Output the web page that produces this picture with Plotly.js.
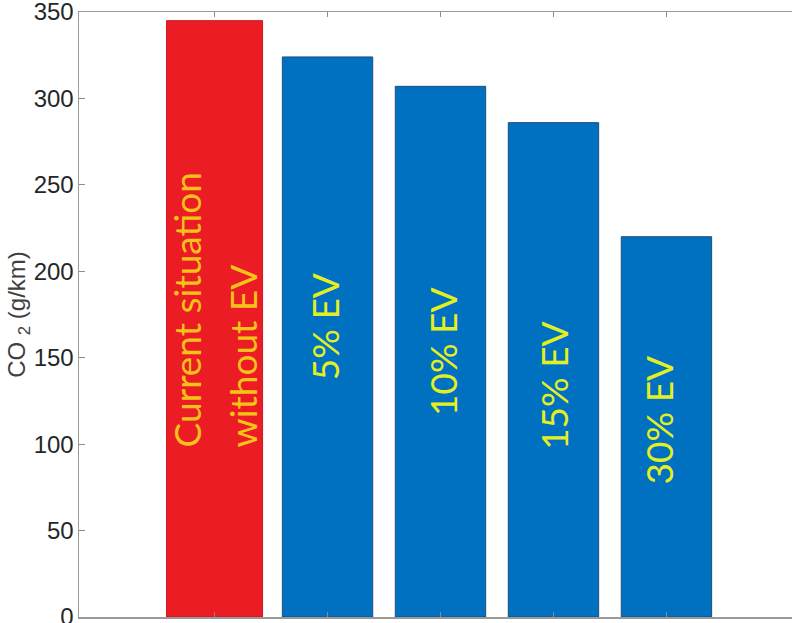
<!DOCTYPE html>
<html>
<head>
<meta charset="utf-8">
<script src="https://cdn.plot.ly/plotly-3.0.1.min.js"></script>
<style>
html, body { margin: 0; padding: 0; overflow: hidden; background: #ffffff; }
#chart { width: 806px; height: 623px; }
</style>
</head>
<body>
<div id="chart"></div>
<script>
// ---- data ----
const categories = ["Current situation without EV", "5% EV", "10% EV", "15% EV", "30% EV"];
const labelLines = [["Current situation", "without EV"], ["5% EV"], ["10% EV"], ["15% EV"], ["30% EV"]];
const co2Values = [345, 324, 307, 286, 220];
const yTickValues = [0, 50, 100, 150, 200, 250, 300, 350];

// ---- styles ----
const barColors = ["#ec1c24", "#0070c0", "#0070c0", "#0070c0", "#0070c0"];
const edgeColors = ["#c8181f", "#1d4f7c", "#1d4f7c", "#1d4f7c", "#1d4f7c"];
const barWidths = [0.85, 0.8, 0.8, 0.8, 0.8];
const textColors = ["#f5c21b", "#e4ef22", "#e4ef22", "#e4ef22", "#e4ef22"];
const labelCenters = [null, 168, 153, 134, 114]; // y (data units) where single-line labels are centred
const redLabelBase = 97;   // y (data units) where the two-line label starts
const labelXShift = [0, -3, 2, 0, -8];

const trace = {
  type: "bar",
  x: categories,
  y: co2Values,
  width: barWidths,
  marker: { color: barColors, line: { color: edgeColors, width: 1 } },
  hoverinfo: "x+y",
  showlegend: false
};

const annotations = [];
categories.forEach((c, i) => {
  const lines = labelLines[i];
  if (lines.length === 2) {
    lines.forEach((ln, j) => {
      annotations.push({
        x: c, y: redLabelBase, xref: "x", yref: "y",
        text: ln, showarrow: false, textangle: -90,
        xanchor: "center", yanchor: "bottom",
        xshift: j === 0 ? -28 : 28,
        font: { family: "Lato, 'Open Sans', sans-serif", size: 37, color: textColors[i] }
      });
    });
  } else {
    annotations.push({
      x: c, y: labelCenters[i], xref: "x", yref: "y",
      text: lines[0], showarrow: false, textangle: -90,
      xanchor: "center", yanchor: "middle",
      xshift: labelXShift[i],
      font: { family: "Lato, 'Open Sans', sans-serif", size: 37, color: textColors[i] }
    });
  }
});

const layout = {
  width: 806,
  height: 623,
  margin: { l: 79, r: 4, t: 12, b: 6 },
  paper_bgcolor: "#ffffff",
  plot_bgcolor: "#ffffff",
  bargap: 0,
  xaxis: {
    type: "category",
    range: [-1.2, 5.2],
    showticklabels: false,
    ticks: "inside",
    ticklen: 5,
    tickcolor: "#8c8c8c",
    showline: true,
    linecolor: "#9a9a9a",
    linewidth: 1.5,
    mirror: "ticks",
    showgrid: false,
    zeroline: false,
    fixedrange: true
  },
  yaxis: {
    range: [0, 350],
    tickvals: yTickValues,
    ticktext: yTickValues.map(String),
    ticks: "inside",
    ticklen: 6,
    tickcolor: "#8c8c8c",
    showline: true,
    linecolor: "#9a9a9a",
    linewidth: 1.5,
    mirror: "ticks",
    showgrid: false,
    zeroline: false,
    ticklabelstandoff: -1,
    ticklabeloverflow: "allow",
    tickfont: { family: "Arial, 'Liberation Sans', sans-serif", size: 24, color: "#262626" },
    title: {
      text: "CO <sub>2</sub> (g/km)",
      standoff: 0,
      font: { family: "Arial, 'Liberation Sans', sans-serif", size: 24, color: "#404040" }
    },
    automargin: false,
    fixedrange: true
  },
  annotations: annotations
};

Plotly.newPlot("chart", [trace], layout, { displayModeBar: false, staticPlot: true });
</script>
</body>
</html>
